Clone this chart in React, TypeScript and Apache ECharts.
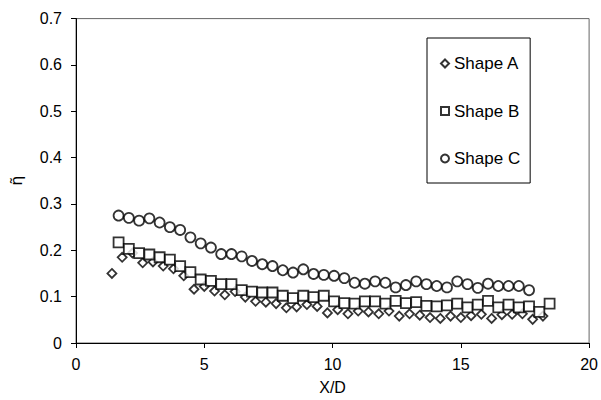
import React, { useEffect, useRef } from "react";
import * as echarts from "echarts";

// X/D positions
const xShapeA = [
  1.40, 1.80, 2.20, 2.60, 3.00, 3.40, 3.80, 4.20, 4.60, 5.00, 5.40, 5.80, 6.20, 6.60, 7.00,
  7.40, 7.80, 8.20, 8.60, 9.00, 9.40, 9.80, 10.20, 10.60, 11.00, 11.40, 11.80, 12.20, 12.60,
  13.00, 13.40, 13.80, 14.20, 14.60, 15.00, 15.40, 15.80, 16.20, 16.60, 17.00, 17.40, 17.80, 18.20,
];
const yShapeA = [
  0.150, 0.185, 0.194, 0.173, 0.175, 0.166, 0.160, 0.145, 0.116, 0.122, 0.112, 0.104, 0.111, 0.099, 0.090,
  0.088, 0.085, 0.076, 0.078, 0.083, 0.079, 0.065, 0.072, 0.063, 0.069, 0.067, 0.063, 0.069, 0.058,
  0.063, 0.060, 0.055, 0.053, 0.058, 0.055, 0.059, 0.062, 0.053, 0.061, 0.062, 0.063, 0.051, 0.058,
];

const xShapeB = [
  1.66, 2.06, 2.46, 2.86, 3.26, 3.66, 4.06, 4.46, 4.86, 5.26, 5.66, 6.06, 6.46, 6.86, 7.26,
  7.66, 8.06, 8.46, 8.86, 9.26, 9.66, 10.06, 10.46, 10.86, 11.26, 11.66, 12.06, 12.46,
  12.86, 13.26, 13.66, 14.06, 14.46, 14.86, 15.26, 15.66, 16.06, 16.46, 16.86, 17.26, 17.66, 18.06, 18.46,
];
const yShapeB = [
  0.217, 0.203, 0.194, 0.191, 0.185, 0.180, 0.166, 0.153, 0.137, 0.134, 0.127, 0.127, 0.114, 0.111, 0.109,
  0.109, 0.102, 0.097, 0.102, 0.099, 0.102, 0.090, 0.086, 0.085, 0.090, 0.090, 0.085, 0.091,
  0.086, 0.088, 0.080, 0.079, 0.081, 0.085, 0.077, 0.083, 0.091, 0.077, 0.083, 0.077, 0.079, 0.067, 0.085,
];

const xShapeC = [
  1.66, 2.06, 2.46, 2.86, 3.26, 3.66, 4.06, 4.46, 4.86, 5.26, 5.66, 6.06, 6.46, 6.86, 7.26,
  7.66, 8.06, 8.46, 8.86, 9.26, 9.66, 10.06, 10.46, 10.86, 11.26, 11.66, 12.06, 12.46,
  12.86, 13.26, 13.66, 14.06, 14.46, 14.86, 15.26, 15.66, 16.06, 16.46, 16.86, 17.26, 17.66,
];
const yShapeC = [
  0.275, 0.270, 0.264, 0.269, 0.260, 0.250, 0.244, 0.228, 0.215, 0.206, 0.192, 0.192, 0.187, 0.177, 0.170,
  0.166, 0.157, 0.152, 0.159, 0.149, 0.147, 0.145, 0.140, 0.130, 0.128, 0.133, 0.130, 0.120,
  0.125, 0.133, 0.127, 0.123, 0.120, 0.133, 0.127, 0.119, 0.128, 0.123, 0.123, 0.123, 0.114,
];

const seriesNames = ["Shape A", "Shape B", "Shape C"];
const xTicks = { min: 0, max: 20, interval: 5 };
const yTicks = { min: 0, max: 0.7, interval: 0.1 };

const pairs = (xs: number[], ys: number[]) => xs.map((x, i) => [x, ys[i]]);

export default function App() {
  const ref = useRef<HTMLDivElement>(null);
  useEffect(() => {
    if (!ref.current) return;
    const chart = echarts.init(ref.current, null, { renderer: "svg" });
    const font = "'Liberation Sans', Arial, sans-serif";
    const markerStyle = { color: "#fff", borderColor: "#000", borderWidth: 1.8 };
    chart.setOption({
      animation: false,
      backgroundColor: "#fff",
      textStyle: { fontFamily: font, color: "#000" },
      grid: {
        left: 72,
        right: 10.5,
        top: 18.6,
        bottom: 51,
        show: true,
        borderColor: "#666",
        borderWidth: 1,
        backgroundColor: "transparent",
      },
      legend: {
        orient: "vertical",
        left: 427,
        top: 38,
        backgroundColor: "#fff",
        borderColor: "#000",
        borderWidth: 1,
        padding: [17, 10, 16, 13],
        itemGap: 30.5,
        itemWidth: 8,
        itemHeight: 8,
        textStyle: { fontFamily: font, fontSize: 17, color: "#000" },
        data: [
          { name: seriesNames[0], icon: "diamond" },
          { name: seriesNames[1], icon: "rect" },
          { name: seriesNames[2], icon: "circle" },
        ],
      },
      xAxis: {
        type: "value",
        min: xTicks.min,
        max: xTicks.max,
        interval: xTicks.interval,
        name: "X/D",
        nameLocation: "middle",
        nameGap: 36,
        nameTextStyle: { fontFamily: font, fontSize: 16, color: "#000" },
        axisLine: { show: true, onZero: false, lineStyle: { color: "#000", width: 1 } },
        axisTick: { show: true, inside: false, length: 5, lineStyle: { color: "#000" } },
        axisLabel: { fontFamily: font, fontSize: 16, color: "#000", margin: 13 },
        splitLine: { show: false },
      },
      yAxis: {
        type: "value",
        min: yTicks.min,
        max: yTicks.max,
        interval: yTicks.interval,
        name: "η\u0303",
        nameLocation: "middle",
        nameRotate: 90,
        nameGap: 52,
        nameTextStyle: { fontFamily: "'DejaVu Sans', sans-serif", fontSize: 16, color: "#000" },
        axisLine: { show: true, onZero: false, lineStyle: { color: "#000", width: 1 } },
        axisTick: { show: true, inside: false, length: 5, lineStyle: { color: "#000" } },
        axisLabel: { fontFamily: font, fontSize: 16, color: "#000", margin: 14 },
        splitLine: { show: false },
      },
      series: [
        {
          name: seriesNames[0],
          type: "scatter",
          symbol: "diamond",
          symbolSize: 9,
          itemStyle: markerStyle,
          data: pairs(xShapeA, yShapeA),
        },
        {
          name: seriesNames[1],
          type: "scatter",
          symbol: "rect",
          symbolSize: 10,
          itemStyle: markerStyle,
          data: pairs(xShapeB, yShapeB),
        },
        {
          name: seriesNames[2],
          type: "scatter",
          symbol: "circle",
          symbolSize: 10,
          itemStyle: markerStyle,
          data: pairs(xShapeC, yShapeC),
        },
      ],
    });
    return () => chart.dispose();
  }, []);
  return (
    <div
      ref={ref}
      style={{ position: "fixed", left: 0, top: 0, width: 601, height: 400, background: "#fff" }}
    />
  );
}
